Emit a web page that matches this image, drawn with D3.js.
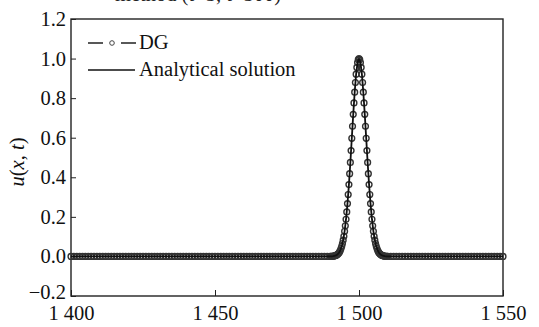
<!DOCTYPE html>
<html>
<head>
<meta charset="utf-8">
<script src="https://cdn.jsdelivr.net/npm/d3@7"></script>
<style>
  body { margin: 0; background: #fff; }
  svg { font-family: "Liberation Serif", "Times New Roman", serif; }
</style>
</head>
<body>
<script>
// axis ticks
const xTicks = [1400, 1450, 1500, 1550];
const xTickLabels = ['1 400', '1 450', '1 500', '1 550'];
const yTicks = [-0.2, 0, 0.2, 0.4, 0.6, 0.8, 1.0, 1.2];
const yTickLabels = ['\u22120.2', '0.0', '0.2', '0.4', '0.6', '0.8', '1.0', '1.2'];

// DG samples on the flat part (u = 0)
const dgFlatX = [
  1400,1401,1402,1403,1404,1405,1406,1407,1408,1409,
  1410,1411,1412,1413,1414,1415,1416,1417,1418,1419,
  1420,1421,1422,1423,1424,1425,1426,1427,1428,1429,
  1430,1431,1432,1433,1434,1435,1436,1437,1438,1439,
  1440,1441,1442,1443,1444,1445,1446,1447,1448,1449,
  1450,1451,1452,1453,1454,1455,1456,1457,1458,1459,
  1460,1461,1462,1463,1464,1465,1466,1467,1468,1469,
  1470,1471,1472,1473,1474,1475,1476,1477,1478,1479,
  1480,1481,1482,1483,1484,1485,1486,1487,1488,1489,
  1511,1512,1513,1514,1515,1516,1517,1518,1519,1520,
  1521,1522,1523,1524,1525,1526,1527,1528,1529,1530,
  1531,1532,1533,1534,1535,1536,1537,1538,1539,1540,
  1541,1542,1543,1544,1545,1546,1547,1548,1549,1550
];

// DG samples around the pulse
const dgPeakX = [
  1490,1490.25,1490.5,1490.75,1491,1491.25,1491.5,1491.75,1492,1492.25,
  1492.5,1492.75,1493,1493.25,1493.5,1493.75,1494,1494.25,1494.5,1494.75,
  1495,1495.25,1495.5,1495.75,1496,1496.25,1496.5,1496.75,1497,1497.25,
  1497.5,1497.75,1498,1498.25,1498.5,1498.75,1499,1499.25,1499.5,1499.75,
  1500,
  1500.25,1500.5,1500.75,1501,1501.25,1501.5,1501.75,1502,1502.25,1502.5,
  1502.75,1503,1503.25,1503.5,1503.75,1504,1504.25,1504.5,1504.75,1505,
  1505.25,1505.5,1505.75,1506,1506.25,1506.5,1506.75,1507,1507.25,1507.5,
  1507.75,1508,1508.25,1508.5,1508.75,1509,1509.25,1509.5,1509.75,1510
];
const dgPeakU = [
  0.000,0.000,0.000,0.001,0.001,0.002,0.003,0.004,0.005,0.007,
  0.010,0.013,0.017,0.023,0.030,0.040,0.051,0.065,0.082,0.102,
  0.127,0.155,0.188,0.225,0.267,0.313,0.363,0.418,0.475,0.535,
  0.597,0.658,0.718,0.776,0.830,0.879,0.921,0.955,0.980,0.995,
  1.000,
  0.995,0.980,0.955,0.921,0.879,0.830,0.776,0.718,0.658,0.597,
  0.535,0.475,0.418,0.363,0.313,0.267,0.225,0.188,0.155,0.127,
  0.102,0.082,0.065,0.051,0.040,0.030,0.023,0.017,0.013,0.010,
  0.007,0.005,0.004,0.003,0.002,0.001,0.001,0.000,0.000,0.000
];

// analytical solution
const exactX = [
  1400,1490,1490.5,1491,1491.5,1492,1492.5,1493,1493.5,1494,1494.5,
  1495,1495.5,1496,1496.5,1497,1497.5,1498,1498.5,1499,1499.5,1500,
  1500.5,1501,1501.5,1502,1502.5,1503,1503.5,1504,1504.5,1505,
  1505.5,1506,1506.5,1507,1507.5,1508,1508.5,1509,1509.5,1510,1550
];
const exactU = [
  0,0.000,0.000,0.001,0.003,0.005,0.010,0.017,0.030,0.051,0.082,
  0.127,0.188,0.267,0.363,0.475,0.597,0.718,0.830,0.921,0.980,1.000,
  0.980,0.921,0.830,0.718,0.597,0.475,0.363,0.267,0.188,0.127,
  0.082,0.051,0.030,0.017,0.010,0.005,0.003,0.001,0.000,0.000,0
];

const W = 539, H = 327;
const margin = {left: 71, right: 36, top: 19, bottom: 31};
const fontSize = '20.5px';

const svg = d3.select('body').append('svg')
  .attr('width', W)
  .attr('height', H);

const x = d3.scaleLinear().domain([1400, 1550]).range([margin.left, W - margin.right]);
const y = d3.scaleLinear().domain([-0.2, 1.2]).range([H - margin.bottom, margin.top]);

// title, mostly cut off at the top
svg.append('text')
  .attr('x', 115)
  .attr('y', 1)
  .style('font-size', fontSize)
  .attr('fill', '#222')
  .text('method (t=5, t=500)');

// axes (ticks inside)
svg.append('g')
  .attr('transform', 'translate(0,' + y(-0.2) + ')')
  .call(d3.axisBottom(x).tickValues(xTicks).tickSize(-6).tickPadding(9)
    .tickFormat((d, i) => xTickLabels[i]))
  .call(g => g.select('.domain').remove())
  .call(g => g.selectAll('text').style('font-size', fontSize).attr('fill', '#111')
    .style('font-family', '"Liberation Serif", serif'))
  .call(g => g.selectAll('line').attr('stroke', '#222'));

svg.append('g')
  .attr('transform', 'translate(' + x(1400) + ',0)')
  .call(d3.axisLeft(y).tickValues(yTicks).tickSize(-5).tickPadding(5)
    .tickFormat((d, i) => yTickLabels[i]))
  .call(g => g.select('.domain').remove())
  .call(g => g.selectAll('text').style('font-size', fontSize).attr('fill', '#111')
    .style('font-family', '"Liberation Serif", serif')
    .attr('y', d => d === -0.2 ? -4 : 0))
  .call(g => g.selectAll('line').attr('stroke', '#222'));

// frame
svg.append('rect')
  .attr('x', x(1400))
  .attr('y', y(1.2))
  .attr('width', x(1550) - x(1400))
  .attr('height', y(-0.2) - y(1.2))
  .attr('fill', 'none')
  .attr('stroke', '#222')
  .attr('stroke-width', 1.4);

// axis titles
const yl = svg.append('text')
  .attr('transform', 'translate(24,162) rotate(-90)')
  .attr('text-anchor', 'middle')
  .style('font-size', fontSize)
  .attr('fill', '#111');
yl.append('tspan').style('font-style', 'italic').text('u');
yl.append('tspan').text('(');
yl.append('tspan').style('font-style', 'italic').text('x');
yl.append('tspan').text(', ');
yl.append('tspan').style('font-style', 'italic').text('t');
yl.append('tspan').text(')');

svg.append('text')
  .attr('x', 289)
  .attr('y', 337)
  .attr('text-anchor', 'middle')
  .style('font-size', fontSize)
  .style('font-style', 'italic')
  .attr('fill', '#111')
  .text('x');

// DG markers
const dgPts = dgFlatX.map(v => ({x: v, u: 0}))
  .concat(dgPeakX.map((v, i) => ({x: v, u: dgPeakU[i]})));

svg.append('g').selectAll('circle')
  .data(dgPts)
  .join('circle')
  .attr('cx', d => x(d.x))
  .attr('cy', d => y(d.u))
  .attr('r', 2.9)
  .attr('fill', 'none')
  .attr('stroke', '#333')
  .attr('stroke-width', 1.4);

// analytical line
const line = d3.line().x(d => x(d[0])).y(d => y(d[1]));
svg.append('path')
  .datum(exactX.map((v, i) => [v, exactU[i]]))
  .attr('d', line)
  .attr('fill', 'none')
  .attr('stroke', '#111')
  .attr('stroke-width', 1.8);

// legend
const lg = svg.append('g');
lg.append('line')
  .attr('x1', 88).attr('x2', 136).attr('y1', 43).attr('y2', 43)
  .attr('stroke', '#222').attr('stroke-width', 1.4)
  .attr('stroke-dasharray', '15,18,15');
lg.append('circle')
  .attr('cx', 112).attr('cy', 43).attr('r', 2.3)
  .attr('fill', 'none').attr('stroke', '#444').attr('stroke-width', 1);
lg.append('text')
  .attr('x', 139).attr('y', 49)
  .style('font-size', fontSize).attr('fill', '#111')
  .text('DG');
lg.append('line')
  .attr('x1', 88).attr('x2', 135).attr('y1', 70).attr('y2', 70)
  .attr('stroke', '#111').attr('stroke-width', 1.6);
lg.append('text')
  .attr('x', 139).attr('y', 76)
  .style('font-size', fontSize).attr('fill', '#111')
  .text('Analytical solution');
</script>
</body>
</html>
